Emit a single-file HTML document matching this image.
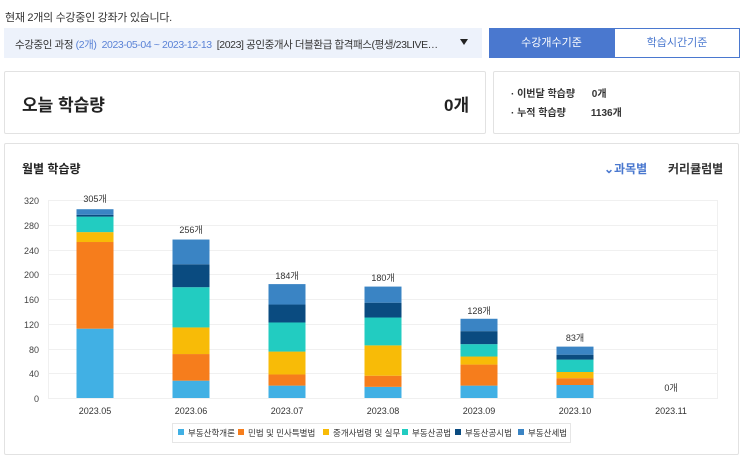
<!DOCTYPE html>
<html><head><meta charset="utf-8"><style>
body{margin:0;width:743px;height:443px;overflow:hidden;background:#fff;font-family:"Liberation Sans","Noto Sans CJK KR",sans-serif;position:relative}
.a{position:absolute}
</style></head><body>
<div class="a" style="left:5px;top:9px;font-size:11px;color:#333;letter-spacing:-0.3px">현재 2개의 수강중인 강좌가 있습니다.</div>
<div class="a" style="left:4px;top:28px;width:478px;height:30px;background:#edf2fb"></div>
<div class="a" style="left:15px;top:37px;font-size:10.5px;color:#333;white-space:nowrap;letter-spacing:-0.4px;width:438px;overflow:hidden">수강중인 과정 <span style="color:#5a82d6">(2개)</span>&nbsp; <span style="color:#5a82d6">2023-05-04 ~ 2023-12-13</span>&nbsp; [2023] 공인중개사 더블환급 합격패스(평생/23LIVE…</div>
<div class="a" style="left:460px;top:39px;width:0;height:0;border-left:4px solid transparent;border-right:4px solid transparent;border-top:6px solid #222"></div>
<div class="a" style="left:489px;top:28px;width:125px;height:30px;background:#4a78cf;color:#fff;font-size:11px;text-align:center;line-height:30px">수강개수기준</div>
<div class="a" style="left:614px;top:28px;width:124px;height:28px;border:1px solid #4a78cf;color:#4a78cf;font-size:11px;text-align:center;line-height:28px;background:#fff">학습시간기준</div>
<div class="a" style="left:4px;top:71px;width:480px;height:61px;border:1px solid #e2e2e2;border-radius:2px"></div>
<div class="a" style="left:22px;top:91px;font-size:17px;font-weight:bold;color:#222">오늘 학습량</div>
<div class="a" style="left:444px;top:91px;font-size:17px;font-weight:bold;color:#222">0개</div>
<div class="a" style="left:493px;top:71px;width:245px;height:61px;border:1px solid #e2e2e2;border-radius:2px"></div>
<div class="a" style="left:511px;top:85px;font-size:10px;color:#333;line-height:19px;font-weight:bold">· 이번달 학습량 &nbsp;&nbsp;&nbsp;&nbsp;&nbsp;0개<br>· 누적 학습량 &nbsp;&nbsp;&nbsp;&nbsp;&nbsp;&nbsp;&nbsp;&nbsp;1136개</div>
<div class="a" style="left:4px;top:143px;width:733px;height:310px;border:1px solid #e2e2e2;border-radius:2px"></div>
<div class="a" style="left:22px;top:160px;font-size:12px;font-weight:bold;color:#222">월별 학습량</div>
<div class="a" style="left:604px;top:160px;font-size:12px;font-weight:bold;color:#4a78cf">⌄과목별</div>
<div class="a" style="left:668px;top:160px;font-size:12px;font-weight:bold;color:#333">커리큘럼별</div>
<svg class="a" style="left:0;top:0" width="743" height="443" font-family="Liberation Sans, Noto Sans CJK KR, sans-serif">
<g stroke="#f0f0f0" stroke-width="1">
<line x1="48" x2="718" y1="200.5" y2="200.5"/><line x1="48" x2="718" y1="225.5" y2="225.5"/><line x1="48" x2="718" y1="250.5" y2="250.5"/><line x1="48" x2="718" y1="274.5" y2="274.5"/><line x1="48" x2="718" y1="299.5" y2="299.5"/><line x1="48" x2="718" y1="324.5" y2="324.5"/><line x1="48" x2="718" y1="349.5" y2="349.5"/><line x1="48" x2="718" y1="373.5" y2="373.5"/><line x1="48" x2="718" y1="398.5" y2="398.5"/>
<line x1="48.5" x2="48.5" y1="200" y2="398"/><line x1="717.5" x2="717.5" y1="200" y2="398"/>
</g>
<g font-size="9" fill="#444" text-anchor="end">
<text x="39" y="204">320</text><text x="39" y="229">280</text><text x="39" y="254">240</text><text x="39" y="278">200</text><text x="39" y="303">160</text><text x="39" y="328">120</text><text x="39" y="353">80</text><text x="39" y="377">40</text><text x="39" y="402">0</text>
</g>
<g id="bars"></g>
<g font-size="9" fill="#333" text-anchor="middle">
<text x="95" y="202">305개</text><text x="191" y="233">256개</text><text x="287" y="279">184개</text><text x="383" y="281">180개</text><text x="479" y="314">128개</text><text x="575" y="341">83개</text><text x="671" y="391">0개</text>
<text x="95" y="414">2023.05</text><text x="191" y="414">2023.06</text><text x="287" y="414">2023.07</text><text x="383" y="414">2023.08</text><text x="479" y="414">2023.09</text><text x="575" y="414">2023.10</text><text x="671" y="414">2023.11</text>
</g>
<rect x="172.5" y="423.5" width="398" height="19" fill="#fff" stroke="#e6e6e6"/>
<g font-size="8.5" fill="#333">
<rect x="178" y="429" width="6" height="6" fill="#41b0e4"/><text x="188" y="436">부동산학개론</text>
<rect x="238" y="429" width="6" height="6" fill="#f67d1c"/><text x="248" y="436">민법 및 민사특별법</text>
<rect x="323" y="429" width="6" height="6" fill="#f8bb07"/><text x="333" y="436">중개사법령 및 실무</text>
<rect x="402" y="429" width="6" height="6" fill="#22ccc1"/><text x="412" y="436">부동산공법</text>
<rect x="455" y="429" width="6" height="6" fill="#0a4b80"/><text x="465" y="436">부동산공시법</text>
<rect x="518" y="429" width="6" height="6" fill="#3a84c4"/><text x="528" y="436">부동산세법</text>
</g>
</svg>
<script>
var cols=["#41b0e4","#f67d1c","#f8bb07","#22ccc1","#0a4b80","#3a84c4"];
var d=[[112,252,268,293,296,305],[28,71,114,179,216,256],[20,38,75,122,151,184],[18,36,85,130,154,180],[20,54,67,87,108,128],[21,32,42,62,70,83]];
var s="";
d.forEach(function(b,i){var cx=95+96*i,p=0;b.forEach(function(v,j){var y1=398-v*0.619,y0=398-p*0.619;s+='<rect x="'+(cx-18.5)+'" y="'+y1+'" width="37" height="'+(y0-y1)+'" fill="'+cols[j]+'"/>';p=v;});});
document.getElementById("bars").innerHTML=s;
</script>
</body></html>
